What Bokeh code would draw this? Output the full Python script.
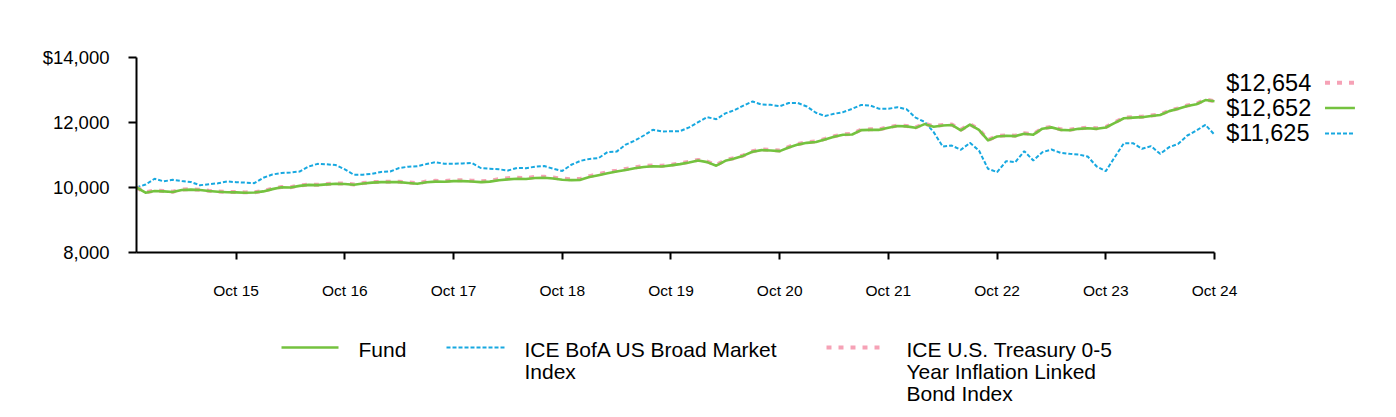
import pandas as pd
from bokeh.plotting import figure
from bokeh.models import Range1d, FixedTicker, ColumnDataSource
from bokeh.layouts import column
from bokeh.core.properties import value
from bokeh.embed import file_html
from bokeh.resources import INLINE

# ---------------- data ----------------
series_names = ["Fund", "ICE BofA US Broad Market Index",
                "ICE U.S. Treasury 0-5 Year Inflation Linked Bond Index"]

fund = [
    10000, 9840, 9890, 9880, 9860, 9925, 9935, 9925, 9890, 9870,
    9856, 9850, 9840, 9845, 9880, 9950, 10005, 10000, 10050, 10080,
    10072, 10095, 10115, 10110, 10085, 10125, 10150, 10164, 10164, 10164,
    10140, 10113, 10160, 10180, 10175, 10195, 10195, 10185, 10164, 10180,
    10225, 10250, 10267, 10260, 10290, 10300, 10277, 10240, 10226, 10236,
    10320, 10380, 10440, 10490, 10540, 10590, 10630, 10655, 10646, 10680,
    10720, 10770, 10830, 10780, 10670, 10820, 10890, 10980, 11100, 11150,
    11138, 11118, 11230, 11320, 11374, 11400, 11480, 11560, 11621, 11631,
    11764, 11774, 11774, 11840, 11890, 11880, 11836, 11950, 11870, 11910,
    11925, 11760, 11935, 11775, 11450, 11570, 11590, 11580, 11655, 11625,
    11810, 11850, 11774, 11760, 11805, 11825, 11805, 11846, 11990, 12130,
    12150, 12164, 12200, 12230, 12350, 12420, 12510, 12560, 12690, 12652]

broad_market = [
    10000, 10090, 10270, 10190, 10236, 10200, 10170, 10070, 10100, 10130,
    10185, 10165, 10150, 10134, 10300, 10400, 10445, 10465, 10490, 10645,
    10728, 10715, 10690, 10560, 10390, 10395, 10420, 10480, 10492, 10600,
    10640, 10656, 10720, 10779, 10730, 10728, 10740, 10755, 10600, 10580,
    10560, 10523, 10600, 10595, 10640, 10660, 10580, 10510, 10700, 10820,
    10880, 10903, 11090, 11105, 11320, 11440, 11600, 11775, 11723, 11730,
    11735, 11850, 12010, 12164, 12100, 12280, 12380, 12520, 12646, 12554,
    12544, 12500, 12600, 12600, 12492, 12300, 12200, 12267, 12318, 12421,
    12540, 12523, 12421, 12421, 12470, 12410, 12150, 12020, 11703, 11260,
    11290, 11159, 11374, 11138, 10575, 10472, 10810, 10779, 11118, 10831,
    11087, 11169, 11067, 11036, 11015, 10954, 10646, 10502, 10940, 11364,
    11364, 11190, 11272, 11036, 11241, 11344, 11600, 11754, 11928, 11625]

inflation_linked = [
    10000, 9850, 9905, 9890, 9870, 9940, 9945, 9930, 9900, 9880,
    9865, 9860, 9850, 9855, 9895, 9965, 10015, 10010, 10065, 10090,
    10085, 10105, 10125, 10120, 10095, 10135, 10165, 10175, 10178, 10176,
    10160, 10130, 10185, 10205, 10200, 10222, 10220, 10210, 10190, 10210,
    10255, 10285, 10300, 10290, 10325, 10330, 10305, 10270, 10255, 10265,
    10350, 10410, 10475, 10520, 10570, 10620, 10660, 10680, 10670, 10700,
    10745, 10790, 10850, 10800, 10690, 10845, 10905, 10990, 11115, 11170,
    11160, 11135, 11250, 11340, 11390, 11420, 11495, 11575, 11640, 11650,
    11780, 11790, 11790, 11855, 11905, 11895, 11850, 11965, 11885, 11925,
    11940, 11775, 11950, 11790, 11465, 11585, 11605, 11595, 11670, 11640,
    11825, 11865, 11790, 11775, 11820, 11840, 11820, 11860, 12005, 12145,
    12165, 12178, 12215, 12245, 12365, 12435, 12525, 12575, 12705, 12654]

end_labels = ["$12,654", "$12,652", "$11,625"]   # inflation-linked, fund, broad market
tick_labels = ["Oct 15", "Oct 16", "Oct 17", "Oct 18", "Oct 19",
               "Oct 20", "Oct 21", "Oct 22", "Oct 23", "Oct 24"]
y_ticks = [8000, 10000, 12000, 14000]
y_tick_labels = ["8,000", "10,000", "12,000", "$14,000"]
legend_labels = ["Fund", "ICE BofA US Broad Market\nIndex",
                 "ICE U.S. Treasury 0-5\nYear Inflation Linked\nBond Index"]

# ---------------- styles ----------------
GREEN = "#74c23f"
BLUE = "#17a8e0"
PINK = "#f6a2b6"
FONT = "Liberation Sans"

months = pd.period_range("2014-11", periods=len(fund), freq="M")
idx = list(range(len(fund)))
oct_pos = [i for i, m in enumerate(months) if m.month == 10]
last = idx[-1]

W = 1388
LEFT = 136
TOP = 57
px_per_idx = 1078 / last
frame_w = W - LEFT

p = figure(width=W, height=308, output_backend="svg", toolbar_location=None,
           x_range=Range1d(0, frame_w / px_per_idx), y_range=Range1d(8000, 14000),
           min_border_left=LEFT, min_border_right=0, min_border_top=TOP, min_border_bottom=56)
p.outline_line_color = None
p.grid.visible = False
p.background_fill_color = "white"

src = ColumnDataSource(dict(x=idx, fund=fund, bm=broad_market, il=inflation_linked))
p.line("x", "bm", source=src, line_color=BLUE, line_width=2, line_dash="4 2")
p.line("x", "il", source=src, line_color=PINK, line_width=4, line_dash="5 7")
p.line("x", "fund", source=src, line_color=GREEN, line_width=2.6, line_join="round")

# end value labels, stacked from the lowest end value
ends = [inflation_linked[-1], fund[-1], broad_market[-1]]
styles = [dict(line_color=PINK, line_width=4, line_dash="5 7"),
          dict(line_color=GREEN, line_width=2.6),
          dict(line_color=BLUE, line_width=2, line_dash="4 2")]
order = sorted(range(3), key=lambda k: ends[k])
gap = 780
base = min(ends) + 40
ypos = [0] * 3
for rank, k in enumerate(order):
    ypos[k] = base + rank * gap
p.text(x=[last + 1.3] * 3, y=ypos, text=end_labels, text_font=value(FONT),
       text_font_size="23.5px", text_baseline="middle", text_align="left", text_color="black")
for k in range(3):
    p.line(x=[last + 12.2, last + 15.5], y=[ypos[k], ypos[k]], **styles[k])

# axes
for ax in (p.xaxis[0], p.yaxis[0]):
    ax.axis_line_color = "black"
    ax.axis_line_width = 2
    ax.major_tick_line_color = "black"
    ax.major_tick_line_width = 2
    ax.minor_tick_line_color = None
    ax.major_tick_in = 0
    ax.major_label_text_color = "black"
    ax.major_label_text_font = FONT

p.xaxis.ticker = FixedTicker(ticks=oct_pos)
p.xaxis.major_label_overrides = {pos: lab for pos, lab in zip(oct_pos, tick_labels)}
p.xaxis.bounds = (0, last)
p.xaxis.major_tick_out = 7
p.xaxis.major_label_text_font_size = "15.5px"
p.xaxis.major_label_standoff = 22

p.yaxis.ticker = FixedTicker(ticks=y_ticks)
p.yaxis.major_label_overrides = {t: lab for t, lab in zip(y_ticks, y_tick_labels)}
p.yaxis.major_tick_out = 8
p.yaxis.major_label_text_font_size = "18.5px"
p.yaxis.major_label_standoff = 19

# ---------------- legend (page-pixel coordinates) ----------------
LG_TOP, LG_H = 308, 101
lg = figure(width=W, height=LG_H, output_backend="svg", toolbar_location=None,
            x_range=Range1d(LEFT, W), y_range=Range1d(LG_TOP + LG_H, LG_TOP),
            x_axis_location=None, y_axis_location=None,
            min_border_left=LEFT, min_border_right=0, min_border_top=0, min_border_bottom=0)
lg.outline_line_color = None
lg.grid.visible = False

legend_styles = [dict(line_color=GREEN, line_width=2.6),
                 dict(line_color=BLUE, line_width=2, line_dash="4 2"),
                 dict(line_color=PINK, line_width=4, line_dash="5 7")]
sample_x = [(281, 338), (446, 506), (826, 880)]
text_x = [358, 524, 906]
row_y = 347
line_h = 22
tx, ty, tt = [], [], []
for k in range(3):
    x0, x1 = sample_x[k]
    lg.line(x=[x0, x1], y=[row_y, row_y], **legend_styles[k])
    for j, part in enumerate(legend_labels[k].split("\n")):
        tx.append(text_x[k])
        ty.append(row_y + 2 + j * line_h)
        tt.append(part)
lg.text(x=tx, y=ty, text=tt, text_font=value(FONT), text_font_size="21px",
        text_baseline="middle", text_align="left", text_color="black")

layout = column(p, lg, spacing=0)
open("out.html", "w").write(file_html(layout, INLINE))
